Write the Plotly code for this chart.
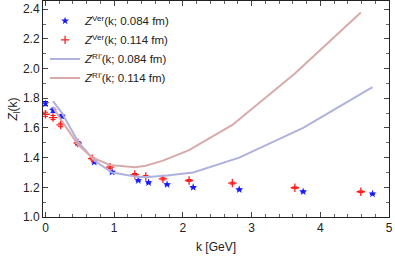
import plotly.graph_objects as go

# Data
k_blue = [0.0, 0.11, 0.24, 0.47, 0.71, 0.97, 1.35, 1.50, 1.77, 2.15, 2.82, 3.75, 4.76]
z_blue = [1.764, 1.719, 1.679, 1.498, 1.370, 1.302, 1.246, 1.232, 1.219, 1.200, 1.185, 1.171, 1.156]
e_blue = [0.014, 0.014, 0.012, 0.010, 0.006, 0.006, 0.005, 0.004, 0.004, 0.003, 0.003, 0.003, 0.003]

k_red = [0.0, 0.11, 0.22, 0.47, 0.68, 0.94, 1.30, 1.46, 1.71, 2.09, 2.72, 3.63, 4.59]
z_red = [1.692, 1.670, 1.620, 1.498, 1.393, 1.336, 1.286, 1.273, 1.257, 1.246, 1.228, 1.197, 1.170]
e_red = [0.014, 0.014, 0.012, 0.010, 0.008, 0.008, 0.007, 0.007, 0.007, 0.006, 0.006, 0.006, 0.006]

k_line_blue = [0.11, 0.24, 0.47, 0.71, 0.97, 1.35, 1.50, 1.77, 2.15, 2.82, 3.75, 4.76]
z_line_blue = [1.78, 1.70, 1.51, 1.38, 1.30, 1.27, 1.27, 1.28, 1.30, 1.40, 1.60, 1.875]

k_line_red = [0.11, 0.22, 0.47, 0.68, 0.94, 1.30, 1.46, 1.71, 2.09, 2.72, 3.63, 4.59]
z_line_red = [1.74, 1.66, 1.49, 1.40, 1.35, 1.335, 1.345, 1.38, 1.45, 1.62, 1.967, 2.377]

FONT = "Liberation Sans, Arial"

fig = go.Figure()
fig.add_trace(go.Scatter(
    x=k_blue, y=z_blue, mode="markers",
    error_y=dict(type="data", array=e_blue, color="#0000ff", thickness=1, width=2.5),
    marker=dict(symbol="star", size=6, color="#1a1aff", line=dict(width=0)),
    name="<i>Z</i><sup>Ver</sup>(k; 0.084 fm)"))
fig.add_trace(go.Scatter(
    x=k_red, y=z_red, mode="markers",
    error_y=dict(type="data", array=e_red, color="#ff0000", thickness=1, width=2.5),
    marker=dict(symbol="cross-thin", size=6, color="#ff2020", line=dict(width=1.3, color="#ff2020")),
    name="<i>Z</i><sup>Ver</sup>(k; 0.114 fm)"))
fig.add_trace(go.Scatter(
    x=k_line_blue, y=z_line_blue, mode="lines",
    line=dict(color="#aeb2dc", width=2),
    name="<i>Z</i><sup>RI'</sup>(k; 0.084 fm)"))
fig.add_trace(go.Scatter(
    x=k_line_red, y=z_line_red, mode="lines",
    line=dict(color="#d9aaaa", width=2),
    name="<i>Z</i><sup>RI'</sup>(k; 0.114 fm)"))

axis_common = dict(
    showgrid=False, zeroline=False, showline=True, linecolor="#222", linewidth=1,
    mirror="ticks", ticks="inside", ticklen=5, tickcolor="#444", automargin=False,
    tickfont=dict(family=FONT, size=12, color="#222"),
)
fig.update_xaxes(**axis_common, range=[-0.036, 5.0], tickvals=[0, 1, 2, 3, 4, 5],
                 minor=dict(ticks="inside", ticklen=3, dtick=0.2, tick0=0, tickcolor="#666"),
                 title=dict(text="k [GeV]", font=dict(family=FONT, size=12, color="#222"), standoff=8))
fig.update_yaxes(**axis_common, range=[1.0, 2.455], tickvals=[1.0, 1.2, 1.4, 1.6, 1.8, 2.0, 2.2, 2.4],
                 tickformat=".1f",
                 minor=dict(ticks="inside", ticklen=3, dtick=0.1, tick0=0, tickcolor="#666"),
                 title=dict(text="<i>Z</i><sub>l</sub>(k)", font=dict(family=FONT, size=12, color="#222"), standoff=2))

fig.update_layout(
    width=395, height=257,
    margin=dict(l=43, r=6, t=1, b=40),
    paper_bgcolor="white", plot_bgcolor="white",
    showlegend=True,
    legend=dict(x=0.006, y=0.975, xanchor="left", yanchor="top",
                bgcolor="rgba(0,0,0,0)", tracegroupgap=0, itemwidth=30,
                font=dict(family=FONT, size=11.5, color="#222")),
)

fig.write_html("out.html", config={"displayModeBar": False},
               post_script="document.body.style.margin='0';")
